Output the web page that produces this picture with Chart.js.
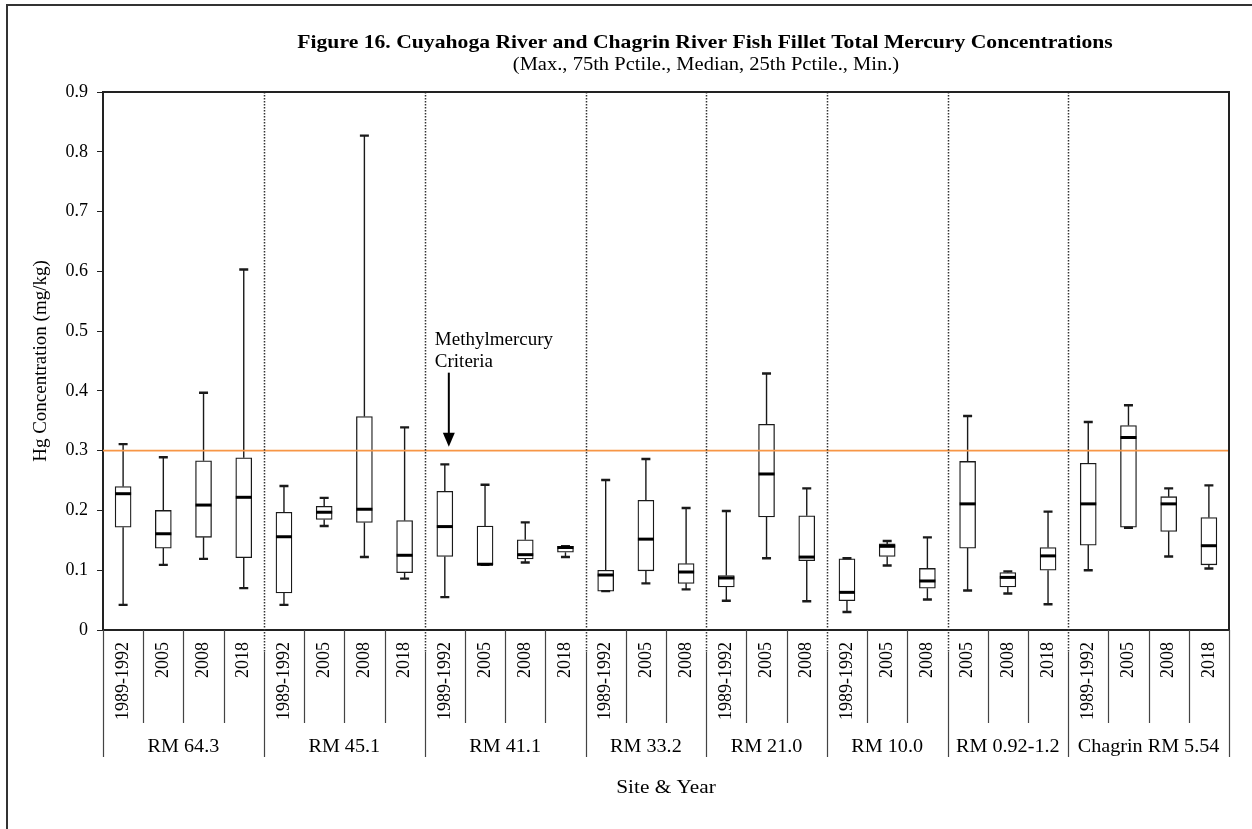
<!DOCTYPE html>
<html lang="en">
<head>
<meta charset="UTF-8">
<title>Figure 16 - Fish Fillet Total Mercury Concentrations</title>
<script src="https://cdn.jsdelivr.net/npm/chart.js"></script>
<style>
  html, body { margin: 0; padding: 0; background: #fff; }
  #wrap { position: relative; width: 1252px; height: 829px; overflow: hidden; }
  #frame { position: absolute; left: 6px; top: 4px; width: 1300px; height: 900px;
           border-left: 2px solid #333; border-top: 2px solid #333; }
  #chart { position: absolute; left: 0; top: 0; }
</style>
</head>
<body>
<div id="wrap">
  <div id="frame"></div>
  <canvas id="chart" width="1252" height="829"></canvas>
</div>
<script>
// sites and how many sampling years each has
const groups = ["RM 64.3", "RM 45.1", "RM 41.1", "RM 33.2", "RM 21.0", "RM 10.0", "RM 0.92-1.2", "Chagrin RM 5.54"];
const groupSizes = [4, 4, 4, 3, 3, 3, 3, 4];
const years = [
  "1989-1992", "2005", "2008", "2018",
  "1989-1992", "2005", "2008", "2018",
  "1989-1992", "2005", "2008", "2018",
  "1989-1992", "2005", "2008",
  "1989-1992", "2005", "2008",
  "1989-1992", "2005", "2008",
  "2005", "2008", "2018",
  "1989-1992", "2005", "2008", "2018"
];

// Hg, mg/kg
const maxVals = [0.311, 0.289, 0.397, 0.603, 0.241, 0.221, 0.827, 0.339, 0.277, 0.243, 0.180, 0.140, 0.251, 0.286, 0.204, 0.199, 0.429, 0.237, 0.120, 0.149, 0.155, 0.358, 0.098, 0.198, 0.348, 0.376, 0.237, 0.242];
const q3Vals  = [0.240, 0.200, 0.283, 0.288, 0.197, 0.207, 0.357, 0.183, 0.232, 0.174, 0.151, 0.140, 0.100, 0.217, 0.111, 0.091, 0.344, 0.191, 0.119, 0.144, 0.103, 0.282, 0.096, 0.138, 0.279, 0.342, 0.223, 0.188];
const medVals = [0.228, 0.161, 0.209, 0.222, 0.156, 0.197, 0.202, 0.125, 0.173, 0.110, 0.126, 0.138, 0.092, 0.152, 0.097, 0.087, 0.261, 0.122, 0.063, 0.140, 0.082, 0.211, 0.088, 0.124, 0.211, 0.322, 0.211, 0.141];
const q1Vals  = [0.172, 0.137, 0.155, 0.121, 0.062, 0.185, 0.180, 0.096, 0.123, 0.109, 0.119, 0.130, 0.065, 0.099, 0.078, 0.072, 0.189, 0.116, 0.049, 0.123, 0.070, 0.137, 0.072, 0.100, 0.142, 0.172, 0.165, 0.109];
const minVals = [0.042, 0.109, 0.119, 0.070, 0.042, 0.174, 0.122, 0.086, 0.055, 0.109, 0.113, 0.122, 0.065, 0.078, 0.068, 0.049, 0.120, 0.048, 0.030, 0.108, 0.051, 0.066, 0.061, 0.043, 0.100, 0.171, 0.123, 0.103];

const criteria = 0.3;   // methylmercury criteria
const yMax = 0.9;
const yStep = 0.1;

const serif = "'Liberation Serif', 'Times New Roman', serif";

// boundaries between sites (category index where a new site starts)
const bounds = [0];
groupSizes.forEach(n => bounds.push(bounds[bounds.length - 1] + n));

// the source figure's lettering is a little wider than Liberation Serif
function wideText(ctx, text, x, y, sx) {
  ctx.save();
  ctx.translate(x, y);
  ctx.scale(sx, 1);
  ctx.fillText(text, 0, 0);
  ctx.restore();
}

const boxExtras = {
  id: "boxExtras",
  afterDatasetsDraw(chart) {
    const { ctx, chartArea: a, scales: { x, y } } = chart;
    const half = (x.getPixelForValue(1) - x.getPixelForValue(0)) / 2;
    const edge = i => x.getPixelForValue(i) - half;
    ctx.save();

    // whiskers, caps, medians
    ctx.strokeStyle = "#1a1a1a";
    years.forEach((_, i) => {
      const cx = x.getPixelForValue(i);
      const pMax = y.getPixelForValue(maxVals[i]);
      const pQ3 = y.getPixelForValue(q3Vals[i]);
      const pQ1 = y.getPixelForValue(q1Vals[i]);
      const pMin = y.getPixelForValue(minVals[i]);
      const pMed = y.getPixelForValue(medVals[i]);
      ctx.lineWidth = 1.4;
      ctx.beginPath();
      ctx.moveTo(cx, pMax); ctx.lineTo(cx, pQ3);
      ctx.moveTo(cx, pQ1); ctx.lineTo(cx, pMin);
      ctx.stroke();
      ctx.lineWidth = 2.4;
      ctx.beginPath();
      ctx.moveTo(cx - 4.5, pMax); ctx.lineTo(cx + 4.5, pMax);
      ctx.moveTo(cx - 4.5, pMin); ctx.lineTo(cx + 4.5, pMin);
      ctx.stroke();
      ctx.lineWidth = 3;
      ctx.strokeStyle = "#000";
      ctx.beginPath();
      ctx.moveTo(cx - 8, pMed); ctx.lineTo(cx + 8, pMed);
      ctx.stroke();
      ctx.strokeStyle = "#1a1a1a";
    });

    // criteria line
    const pc = y.getPixelForValue(criteria);
    ctx.strokeStyle = "#F79646";
    ctx.lineWidth = 1.6;
    ctx.beginPath();
    ctx.moveTo(a.left, pc); ctx.lineTo(a.right, pc);
    ctx.stroke();

    // dotted site separators
    ctx.strokeStyle = "#333";
    ctx.lineWidth = 1.5;
    ctx.setLineDash([1.5, 1.5]);
    bounds.slice(1, -1).forEach(b => {
      const px = Math.round(edge(b)) + 0.5;
      ctx.beginPath();
      ctx.moveTo(px, a.top); ctx.lineTo(px, a.bottom + 22);
      ctx.stroke();
    });
    ctx.setLineDash([]);

    // category table under the axis
    const rowEnd = a.bottom + 93;
    const groupEnd = a.bottom + 127;
    ctx.strokeStyle = "#444";
    ctx.lineWidth = 1.2;
    for (let i = 0; i <= years.length; i++) {
      const px = Math.round(edge(i)) + 0.5;
      ctx.beginPath();
      if (i === 0 || i === years.length) {
        ctx.moveTo(px, a.bottom); ctx.lineTo(px, groupEnd);
      } else if (bounds.includes(i)) {
        ctx.moveTo(px, a.bottom + 22); ctx.lineTo(px, groupEnd);
      } else {
        ctx.moveTo(px, a.bottom); ctx.lineTo(px, rowEnd);
      }
      ctx.stroke();
    }
    ctx.fillStyle = "#000";
    ctx.font = "19px " + serif;
    ctx.textAlign = "center";
    ctx.textBaseline = "middle";
    groups.forEach((g, k) => {
      const cx = (edge(bounds[k]) + edge(bounds[k + 1])) / 2;
      wideText(ctx, g, cx, a.bottom + 117, 1.06);
    });
    wideText(ctx, "Site & Year", (a.left + a.right) / 2, a.bottom + 158, 1.12);

    // top and right frame of the plot
    ctx.strokeStyle = "#222";
    ctx.lineWidth = 2;
    ctx.beginPath();
    ctx.moveTo(a.left, a.top); ctx.lineTo(a.right, a.top); ctx.lineTo(a.right, a.bottom);
    ctx.stroke();

    // annotation
    const ax = x.getPixelForValue(8) + 4;
    const tip = pc - 4;
    ctx.textAlign = "left";
    ctx.font = "19px " + serif;
    ctx.fillText("Methylmercury", ax - 14, tip - 107);
    ctx.fillText("Criteria", ax - 14, tip - 85);
    ctx.strokeStyle = "#000";
    ctx.lineWidth = 2;
    ctx.beginPath();
    ctx.moveTo(ax, tip - 74); ctx.lineTo(ax, tip - 12);
    ctx.stroke();
    ctx.beginPath();
    ctx.moveTo(ax - 6, tip - 14); ctx.lineTo(ax + 6, tip - 14); ctx.lineTo(ax, tip);
    ctx.closePath();
    ctx.fill();

    // titles
    ctx.textAlign = "center";
    ctx.font = "bold 19px " + serif;
    wideText(ctx, "Figure 16. Cuyahoga River and Chagrin River Fish Fillet Total Mercury Concentrations", 705, 43, 1.14);
    ctx.font = "19px " + serif;
    wideText(ctx, "(Max., 75th Pctile., Median, 25th Pctile., Min.)", 706, 65, 1.08);
    ctx.restore();
  }
};

const ctx = document.getElementById("chart").getContext("2d");
new Chart(ctx, {
  type: "bar",
  data: {
    labels: years,
    datasets: [{
      label: "25th-75th percentile",
      data: q1Vals.map((q, i) => [q, q3Vals[i]]),
      backgroundColor: "#fff",
      borderColor: "#1a1a1a",
      borderWidth: 1.3,
      borderSkipped: false,
      barThickness: 16
    }]
  },
  options: {
    responsive: false,
    animation: false,
    layout: { padding: { top: 92, right: 23, bottom: 0, left: 0 } },
    plugins: { legend: { display: false }, tooltip: { enabled: false } },
    scales: {
      x: {
        grid: { display: false, drawTicks: false },
        border: { display: true, color: "#222", width: 2 },
        ticks: {
          autoSkip: false, minRotation: 90, maxRotation: 90, padding: 12,
          color: "#000", font: { family: serif, size: 18 }
        },
        afterFit(s) { s.height = 199; }
      },
      y: {
        min: 0, max: yMax,
        grid: { drawOnChartArea: false, tickLength: 6, color: "#222" },
        border: { display: true, color: "#222", width: 2 },
        ticks: {
          stepSize: yStep, padding: 9, color: "#000",
          font: { family: serif, size: 18 },
          callback: v => v === 0 ? "0" : v.toFixed(1)
        },
        title: {
          display: true, text: "Hg Concentration (mg/kg)", color: "#000",
          font: { family: serif, size: 19 }, padding: { top: 30, bottom: 0 }
        },
        afterFit(s) { s.width = 103; }
      }
    }
  },
  plugins: [boxExtras]
});
</script>
</body>
</html>
